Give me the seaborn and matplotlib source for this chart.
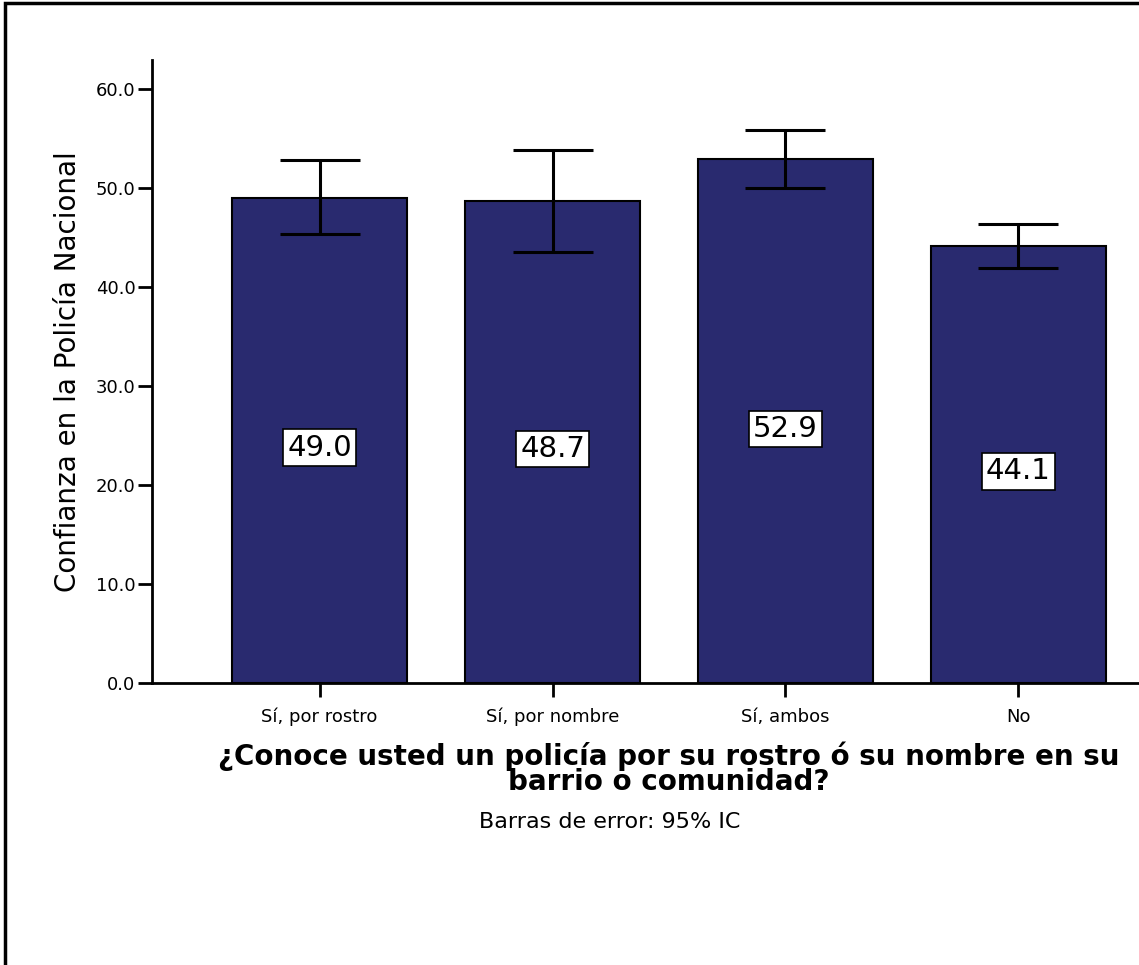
import numpy as np
import matplotlib
matplotlib.use("Agg")
import matplotlib.pyplot as plt
import seaborn as sns
import pandas as pd

categorias = ["Sí, por rostro", "Sí, por nombre", "Sí, ambos", "No"]
medias = [49.0, 48.7, 52.9, 44.1]
ic_bajo = [45.3, 43.5, 50.0, 41.9]
ic_alto = [52.8, 53.8, 55.8, 46.3]

df = pd.DataFrame({"categoria": categorias, "media": medias})

sns.set_style("white")
plt.rcParams["font.family"] = ["DejaVu Sans"]
plt.rcParams["text.color"] = "black"
plt.rcParams["axes.labelcolor"] = "black"
plt.rcParams["xtick.color"] = "black"
plt.rcParams["ytick.color"] = "black"

fig = plt.figure(figsize=(11.39, 9.65), dpi=100)
ax = fig.add_axes([152 / 1139, 282 / 965, 1034 / 1139, 623 / 965])

sns.barplot(data=df, x="categoria", y="media", color="#292A6F", width=0.75,
            edgecolor="black", linewidth=1.5, saturation=1, errorbar=None, ax=ax)

# --error bars (95% IC)
x = np.arange(len(categorias))
yerr = [np.array(medias) - np.array(ic_bajo), np.array(ic_alto) - np.array(medias)]
ax.errorbar(x, medias, yerr=yerr, fmt="none", ecolor="black", elinewidth=2.2,
            capsize=29, capthick=2.2)

# --value labels in white boxes
for xi, m in zip(x, medias):
    ax.text(xi, m * 0.485, f"{m:.1f}", ha="center", va="center", fontsize=21,
            bbox=dict(boxstyle="square,pad=0.15", fc="white", ec="black", lw=1.2))

ax.set_xlim(-0.72, 3.72)
ax.set_ylim(0, 62.9)
ax.set_yticks(np.arange(0, 61, 10))
ax.set_yticklabels([f"{v:.1f}" for v in np.arange(0, 61, 10)], fontsize=13)
ax.tick_params(axis="y", length=10, width=2, pad=2, left=True)
ax.tick_params(axis="x", length=10, width=2, pad=8, labelsize=13, bottom=True)

for side in ["top", "right"]:
    ax.spines[side].set_visible(False)
for side in ["left", "bottom"]:
    ax.spines[side].set_linewidth(2)
    ax.spines[side].set_color("black")

ax.set_ylabel("Confianza en la Policía Nacional", fontsize=20, labelpad=10)
ax.set_xlabel("¿Conoce usted un policía por su rostro ó su nombre en su\nbarrio o comunidad?",
              fontsize=20, fontweight="bold", labelpad=11, linespacing=0.85)

fig.text(610 / 1139, 1 - 822 / 965, "Barras de error: 95% IC", ha="center", va="center",
         fontsize=16)

# --figure frame (only left and top edges fall inside the picture)
fig.patches.append(plt.Rectangle((5 / 1139, -0.2), 1.2, 1.2 - 3 / 965, transform=fig.transFigure,
                                 fill=False, edgecolor="black", linewidth=2.5))

fig.savefig("out.png", dpi=100)
